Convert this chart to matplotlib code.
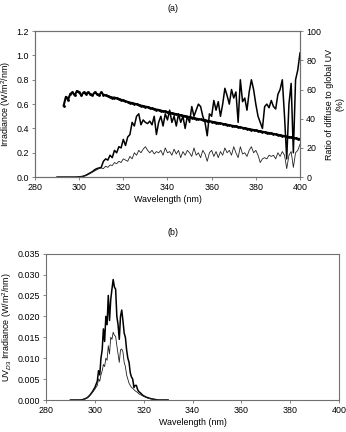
import numpy as np
import matplotlib
matplotlib.use('Agg')
import matplotlib.pyplot as plt

plt.rcParams['font.family'] = ['Liberation Sans', 'DejaVu Sans']
plt.rcParams['font.size'] = 6.4
plt.rcParams['mathtext.fontset'] = 'custom'
plt.rcParams['mathtext.rm'] = 'Liberation Sans'

# ---- panel (a): global / diffuse irradiance and diffuse ratio ----
wl_a = list(range(290, 401))
global_irr = [
    0, 0, 0, 0, 0, 0, 0, 0, 0, 0.001,
    0.002, 0.004, 0.008, 0.015, 0.025, 0.035, 0.045, 0.06, 0.07, 0.075,
    0.08, 0.13, 0.15, 0.14, 0.18, 0.16, 0.22, 0.2, 0.25, 0.24,
    0.31, 0.26, 0.33, 0.35, 0.45, 0.42, 0.5, 0.52, 0.43, 0.47,
    0.45, 0.44, 0.46, 0.43, 0.5, 0.35, 0.45, 0.5, 0.42, 0.52,
    0.47, 0.55, 0.45, 0.5, 0.42, 0.52, 0.45, 0.5, 0.4, 0.5,
    0.45, 0.58, 0.5, 0.55, 0.6, 0.58, 0.5, 0.45, 0.34, 0.52,
    0.5, 0.63, 0.55, 0.62, 0.5, 0.6, 0.73, 0.67, 0.6, 0.72,
    0.65, 0.7, 0.45, 0.8, 0.62, 0.65, 0.55, 0.7, 0.8, 0.72,
    0.6, 0.5, 0.45, 0.4, 0.58, 0.6, 0.57, 0.63, 0.58, 0.56,
    0.68, 0.72, 0.8, 0.5, 0.15, 0.6, 0.77, 0.2, 0.8, 0.88,
    1.02,
]
diffuse_irr = [
    0, 0, 0, 0, 0, 0, 0, 0, 0, 0,
    0.002, 0.004, 0.007, 0.012, 0.02, 0.03, 0.04, 0.05, 0.06, 0.07,
    0.075, 0.07, 0.09, 0.08, 0.1, 0.095, 0.12, 0.11, 0.13, 0.12,
    0.15, 0.14, 0.13, 0.17, 0.15, 0.2, 0.18, 0.22, 0.2, 0.23,
    0.25, 0.22, 0.2, 0.22, 0.19, 0.21, 0.2, 0.22, 0.18, 0.24,
    0.2, 0.21, 0.18, 0.23, 0.19, 0.22, 0.16, 0.21, 0.18, 0.22,
    0.2, 0.17, 0.24, 0.18, 0.2, 0.16, 0.22, 0.19, 0.13, 0.2,
    0.22, 0.17, 0.21, 0.16, 0.21, 0.18, 0.24, 0.2, 0.22, 0.18,
    0.25, 0.2, 0.16, 0.25, 0.19, 0.2, 0.17, 0.22, 0.25, 0.2,
    0.22, 0.18, 0.12, 0.15, 0.16, 0.15, 0.18, 0.17, 0.18, 0.15,
    0.2, 0.17, 0.21, 0.18, 0.07, 0.18, 0.21, 0.08, 0.2, 0.22,
    0.27,
]
wl_ratio = list(range(293, 401))
ratio_pct = [
    49, 55, 53, 57, 58, 56, 59,
    58, 56, 58, 57, 58, 57, 56, 58, 57, 56,
    58, 56.5, 56, 55.5, 55, 54.5, 54.5, 54, 53.5, 53,
    52.5, 52, 51.5, 51, 50.8, 50.3, 50, 49.5, 49, 48.7,
    48.3, 48, 47.5, 47, 46.7, 46.3, 46, 45.6, 45.2, 45,
    44.6, 44.2, 43.8, 43.5, 43.1, 42.8, 42.4, 42.1, 41.8, 41.4,
    41.1, 40.8, 40.5, 40.1, 39.8, 39.5, 39.2, 38.9, 38.6, 38.3,
    38, 37.7, 37.4, 37.1, 36.8, 36.5, 36.2, 35.9, 35.6, 35.3,
    35, 34.7, 34.4, 34.1, 33.8, 33.5, 33.2, 32.9, 32.6, 32.3,
    32, 31.7, 31.4, 31.1, 30.8, 30.5, 30.2, 29.9, 29.6, 29.3,
    29, 28.7, 28.4, 28.1, 27.8, 27.5, 27.2, 26.9, 26.6, 26.3,
    26,
]

# ---- panel (b): UV_D3 weighted irradiance ----
wl_b = [290, 291, 292, 293, 294, 295, 296, 297, 298, 299, 300, 301,
        301.5, 302, 302.5, 303, 303.5, 304, 304.5, 305, 305.5, 306,
        306.5, 307, 307.5, 308, 308.5, 309, 309.5, 310, 310.5, 311,
        311.5, 312, 312.5, 313, 313.5, 314, 314.5, 315, 315.5, 316,
        316.5, 317, 317.5, 318, 318.5, 319, 319.5, 320, 321, 322, 323,
        324, 325, 326, 327, 328, 329, 330]
uvd3_global = [0, 0, 0, 0, 0, 0.0001, 0.0003, 0.0006, 0.0012, 0.002, 0.003, 0.0045,
               0.007, 0.006, 0.01, 0.012, 0.017, 0.014, 0.02, 0.018, 0.025, 0.019,
               0.024, 0.0265, 0.0288, 0.027, 0.0265, 0.02, 0.018, 0.0145, 0.02, 0.0215,
               0.019, 0.016, 0.015, 0.012, 0.01, 0.009, 0.0065, 0.0055, 0.005, 0.003,
               0.0035, 0.0035, 0.0025, 0.002, 0.0018, 0.0015, 0.0012, 0.001, 0.0007, 0.0005, 0.0003,
               0.0002, 0.0001, 0, 0, 0, 0, 0]
uvd3_diffuse = [0, 0, 0, 0, 0, 0.0001, 0.0003, 0.0006, 0.0011, 0.0018, 0.0026, 0.0035,
                0.005, 0.0045, 0.006, 0.007, 0.0085, 0.008, 0.01, 0.0095, 0.013, 0.011,
                0.015, 0.0145, 0.0162, 0.0155, 0.0152, 0.013, 0.011, 0.009, 0.012, 0.0122,
                0.0115, 0.009, 0.008, 0.006, 0.005, 0.004, 0.0035, 0.003, 0.0028, 0.0025,
                0.0022, 0.002, 0.0018, 0.0015, 0.0013, 0.0012, 0.001, 0.0009, 0.0006, 0.0004, 0.0003,
                0.0002, 0.0001, 0, 0, 0, 0, 0]

spine_col = '#707070'
fs = 6.4


def style_axes(ax):
    for sp in ax.spines.values():
        sp.set_color(spine_col)
        sp.set_linewidth(0.8)
    ax.tick_params(direction='out', length=2.5, width=0.6, color=spine_col,
                   labelsize=fs, pad=2)


fig = plt.figure(figsize=(3.46, 4.32), dpi=100)

ax1 = fig.add_axes([0.101, 0.590, 0.766, 0.338])
ax1.plot(wl_a, global_irr, color='black', lw=1.1)
ax1.plot(wl_a, diffuse_irr, color='#222222', lw=0.6)
ax1.set_xlim(280, 400)
ax1.set_ylim(0, 1.2)
ax1.set_xticks(np.arange(280, 401, 20))
ax1.set_yticks(np.arange(0, 1.21, 0.2))
ax1.set_yticklabels(['%.1f' % v for v in np.arange(0, 1.21, 0.2)])
ax1.set_xlabel('Wavelength (nm)', fontsize=fs, labelpad=2)
ax1.set_ylabel('Irradiance (W/m$^2$/nm)', fontsize=fs, labelpad=2)
style_axes(ax1)

ax2 = ax1.twinx()
ax2.plot(wl_ratio, ratio_pct, color='black', lw=1.5, marker='o', markersize=1.0)
ax2.set_ylim(0, 100)
ax2.set_yticks(np.arange(0, 101, 20))
ax2.set_ylabel('Ratio of diffuse to global UV\n(%)', fontsize=fs, labelpad=3)
style_axes(ax2)
fig.text(0.5, 0.981, '(a)', ha='center', va='center', fontsize=fs)

ax3 = fig.add_axes([0.133, 0.074, 0.847, 0.339])
ax3.plot(wl_b, uvd3_global, color='black', lw=1.1)
ax3.plot(wl_b, uvd3_diffuse, color='#222222', lw=0.6)
ax3.set_xlim(280, 400)
ax3.set_ylim(0, 0.035)
ax3.set_xticks(np.arange(280, 401, 20))
ax3.set_yticks(np.arange(0, 0.0351, 0.005))
ax3.set_yticklabels(['%.3f' % v for v in np.arange(0, 0.0351, 0.005)])
ax3.set_xlabel('Wavelength (nm)', fontsize=fs, labelpad=2)
ax3.set_ylabel('UV$_{D3}$ Irradiance (W/m$^2$/nm)', fontsize=fs, labelpad=2)
style_axes(ax3)
fig.text(0.5, 0.461, '(b)', ha='center', va='center', fontsize=fs)

fig.savefig('out.png', dpi=100)
plt.close('all')
